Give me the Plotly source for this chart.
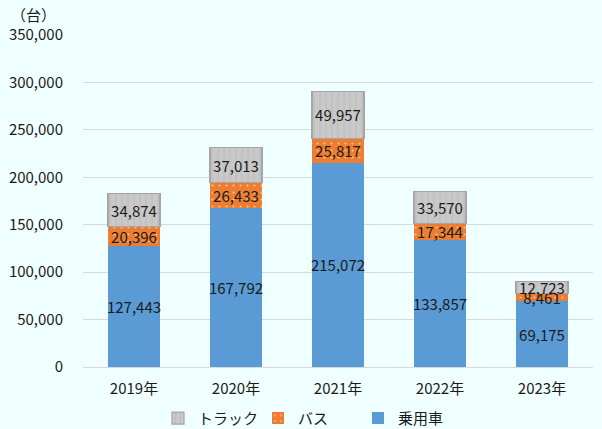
import plotly.graph_objects as go

years = ["2019年", "2020年", "2021年", "2022年", "2023年"]
passenger = [127443, 167792, 215072, 133857, 69175]
bus = [20396, 26433, 25817, 17344, 8461]
truck = [34874, 37013, 49957, 33570, 12723]

FONT = "Noto Sans CJK JP"

fig = go.Figure()
fig.add_trace(go.Bar(
    x=years, y=passenger, name="乗用車",
    marker=dict(color="#5B9BD5", line=dict(width=0)),
    text=[f"{v:,}" for v in passenger], textposition="inside",
    insidetextanchor="middle", textangle=0,
))
fig.add_trace(go.Bar(
    x=years, y=bus, name="バス",
    marker=dict(color="#ED7D31", line=dict(width=0),
                pattern=dict(shape=".", fgcolor="white", bgcolor="#ED7D31",
                             size=7, solidity=0.08)),
    text=[f"{v:,}" for v in bus], textposition="inside",
    insidetextanchor="middle", textangle=0,
))
fig.add_trace(go.Bar(
    x=years, y=truck, name="トラック",
    marker=dict(color="#C9C9C9", line=dict(width=1.2, color="#A5A5A5"),
                pattern=dict(shape="|", fgcolor="#A8A8A8", bgcolor="#C9C9C9",
                             size=6, solidity=0.15)),
    text=[f"{v:,}" for v in truck], textposition="inside",
    insidetextanchor="middle", textangle=0,
))

fig.update_traces(textfont=dict(family=FONT, size=15, color="#1a1a1a"))

fig.update_layout(
    barmode="stack",
    bargap=0.49,
    width=602, height=429,
    margin=dict(l=83, r=9, t=35, b=62, autoexpand=False),
    paper_bgcolor="#F0FFFF",
    plot_bgcolor="#F0FFFF",
    font=dict(family=FONT, size=15, color="#1a1a1a"),
    uniformtext=dict(minsize=15, mode="show"),
    showlegend=True,
    legend=dict(orientation="h", traceorder="reversed",
                x=(158 - 83) / 510, xanchor="left",
                y=-0.105, yanchor="top", font=dict(size=15),
                itemwidth=30, entrywidth=55),
    annotations=[dict(text="（台）", x=(33 - 83) / 510, y=(429 - 14 - 62) / 332,
                      xref="paper", yref="paper", xanchor="center",
                      yanchor="middle", showarrow=False, font=dict(size=15))],
)

fig.update_yaxes(range=[0, 350000], dtick=50000, tickformat=",",
                 showgrid=True, gridcolor="#D9D9D9", gridwidth=1,
                 zeroline=False, showline=False, ticklabelstandoff=19,
                 automargin=False, fixedrange=True)
fig.update_xaxes(showline=True, linecolor="#D9D9D9", linewidth=1,
                 ticklabelstandoff=8, automargin=False, fixedrange=True)

# drop the default page margin so the figure sits at the window's corner
fig.write_html("out.html", config={"displayModeBar": False},
               post_script="document.body.style.margin='0';"
                           "document.body.style.overflow='hidden';")
